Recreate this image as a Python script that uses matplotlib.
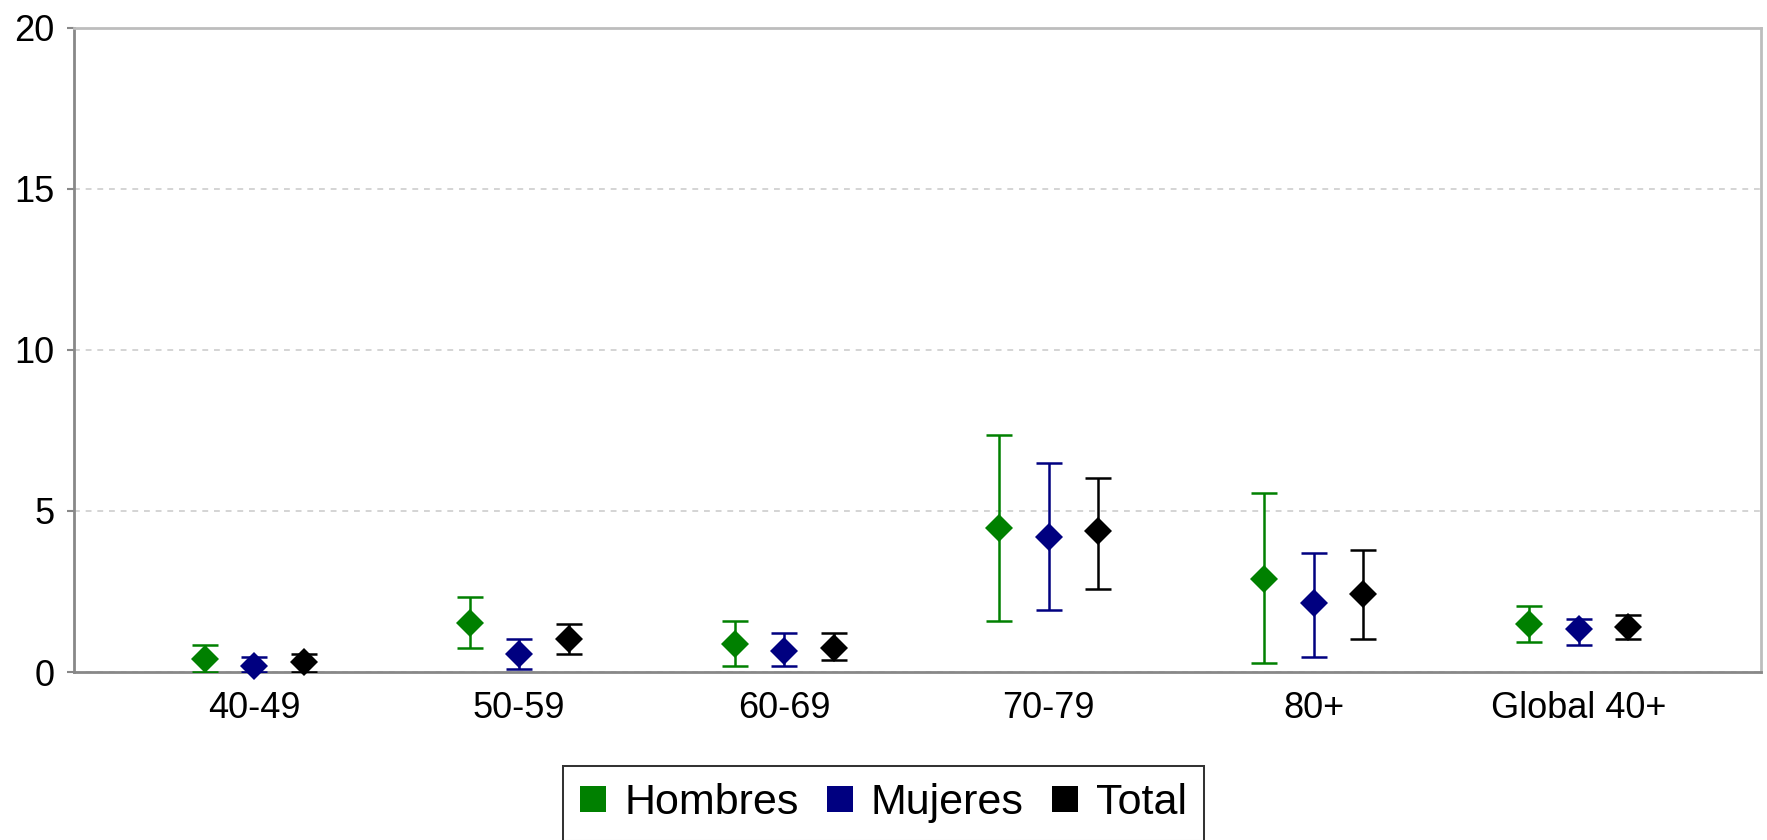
import matplotlib
matplotlib.use("Agg")
import matplotlib.pyplot as plt
from matplotlib.lines import Line2D
import numpy as np

plt.rcParams['font.family'] = ['Liberation Sans', 'DejaVu Sans']

# Age groups
categories = ['40-49', '50-59', '60-69', '70-79', '80+', 'Global 40+']

# Prevalence (%) with 95% confidence limits
hombres = [0.40, 1.51, 0.86, 4.47, 2.88, 1.49]
hombres_lo = [0.00, 0.73, 0.19, 1.58, 0.27, 0.93]
hombres_hi = [0.84, 2.32, 1.58, 7.35, 5.57, 2.05]

mujeres = [0.20, 0.56, 0.66, 4.20, 2.15, 1.32]
mujeres_lo = [0.00, 0.08, 0.19, 1.94, 0.46, 0.84]
mujeres_hi = [0.46, 1.01, 1.20, 6.50, 3.71, 1.66]

total = [0.30, 1.02, 0.73, 4.38, 2.42, 1.40]
total_lo = [0.00, 0.56, 0.37, 2.59, 1.01, 1.01]
total_hi = [0.56, 1.48, 1.20, 6.04, 3.80, 1.77]

y_ticks = [0, 5, 10, 15, 20]

series = [
    ('Hombres', hombres, hombres_lo, hombres_hi, '#008000'),
    ('Mujeres', mujeres, mujeres_lo, mujeres_hi, '#000080'),
    ('Total', total, total_lo, total_hi, '#000000'),
]

fig = plt.figure(figsize=(17.67, 8.4), dpi=100)
ax = fig.add_axes([0.0419, 0.2, 0.9547, 0.7667])

x = np.arange(len(categories))
offsets = [-0.187, 0.0, 0.187]

for (name, vals, lo, hi, color), off in zip(series, offsets):
    vals = np.array(vals)
    err = [vals - np.array(lo), np.array(hi) - vals]
    # confidence interval whiskers with caps
    ax.errorbar(x + off, vals, yerr=err, fmt='none', ecolor=color,
                elinewidth=1.8, capsize=9.7, capthick=1.8, zorder=3)
    # point estimate
    ax.plot(x + off, vals, linestyle='none', marker='D', markersize=13.9,
            markerfacecolor=color, markeredgewidth=0, zorder=4,
            clip_on=False, label=name)

ax.set_xlim(-0.681, 5.689)
ax.set_ylim(0, 20)
ax.set_xticks(x)
ax.set_xticklabels(categories)
ax.set_yticks(y_ticks)

ax.tick_params(axis='x', length=0, pad=14, labelsize=26)
ax.tick_params(axis='y', length=5, width=1.5, color='#888888', pad=9,
               labelsize=26)

for side in ('left', 'bottom'):
    ax.spines[side].set_color('#888888')
    ax.spines[side].set_linewidth(2)
for side in ('top', 'right'):
    ax.spines[side].set_color('#bdbdbd')
    ax.spines[side].set_linewidth(2)

ax.yaxis.grid(True, color='#d4d4d4', linewidth=1.4, linestyle=(0, (3, 3)))
ax.set_axisbelow(True)

handles = [Line2D([], [], linestyle='none', marker='s', markersize=19.4,
                  markerfacecolor=c, markeredgewidth=0)
           for _, _, _, _, c in series]
labels = [s[0] for s in series]
leg = fig.legend(handles, labels, loc='upper center',
                 bbox_to_anchor=(0.5, 0.088), ncol=3, fontsize=31,
                 frameon=True, fancybox=False, handlelength=0.63,
                 handletextpad=0.4, columnspacing=0.65, borderpad=0.4,
                 borderaxespad=0)
leg.get_frame().set_edgecolor('black')
leg.get_frame().set_linewidth(1.45)

fig.savefig('out.png', dpi=100)
